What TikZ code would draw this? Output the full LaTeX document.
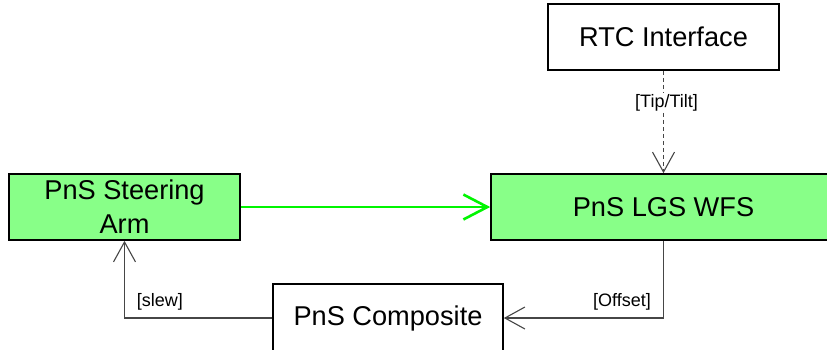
\documentclass[tikz,border=0pt]{standalone}
\usepackage{fontspec}
\setmainfont{Liberation Sans}
\usetikzlibrary{arrows.meta}
\definecolor{boxgreen}{RGB}{136,255,136}
\definecolor{arrowgreen}{RGB}{0,245,0}
\definecolor{conn}{RGB}{70,70,70}
\begin{document}
\begin{tikzpicture}[x=1pt,y=-1pt,
  box/.style={draw=black, line width=1.6pt, inner sep=0pt, align=center,
    font=\fontsize{27.2}{34}\selectfont},
  greenbox/.style={box, fill=boxgreen},
  conline/.style={draw=conn, line width=1.1pt, -{Straight Barb[length=20pt,width=22pt]}},
  lbl/.style={font=\fontsize{18}{20}\selectfont, inner sep=1pt}]
\useasboundingbox (0,0) rectangle (827,349);
\node[box, minimum width=231pt, minimum height=66pt] (rtc) at (663.5,37) {RTC Interface};
\node[greenbox, minimum width=345pt, minimum height=66pt] (lgs) at (663.5,207) {PnS LGS WFS};
\node[greenbox, minimum width=231pt, minimum height=66pt] (steer) at (124.5,207) {PnS Steering\\Arm};
\node[box, fill=white, minimum width=230pt, minimum height=68pt] (comp) at (388,318) {PnS Composite};
\draw[conline, dash pattern=on 4pt off 3pt] (rtc.south) -- node[lbl, pos=0.31, fill=white, xshift=3pt] {[Tip/Tilt]} (lgs.north);
\draw[draw=arrowgreen, line width=2.6pt, -{Straight Barb[length=24pt,width=25pt]}] (steer.east) -- (lgs.west);
\draw[conline] (lgs.south) |- node[lbl, pos=0.63, yshift=16pt] {[Offset]} (comp.east);
\draw[conline] (comp.west) -| node[lbl, pos=0.38, yshift=16.5pt] {[slew]} (steer.south);
\end{tikzpicture}
\end{document}
